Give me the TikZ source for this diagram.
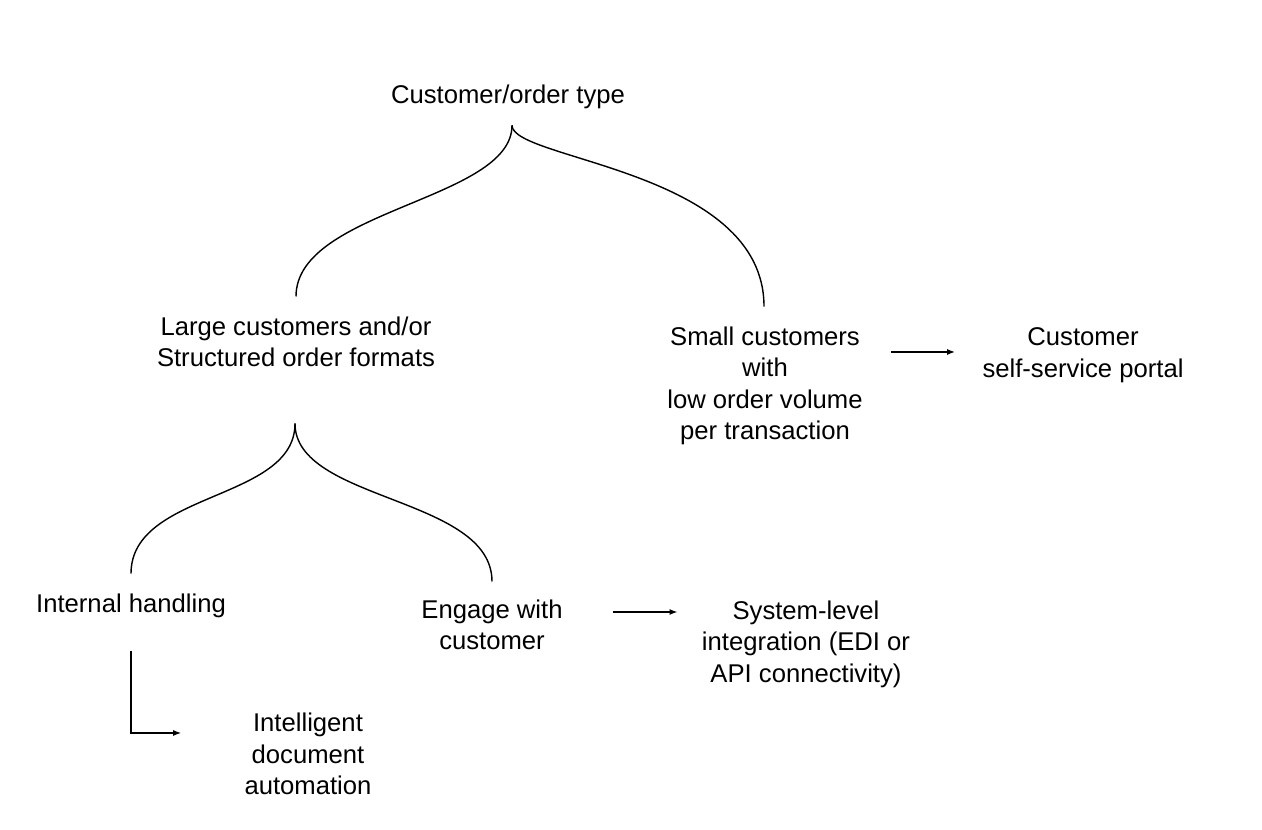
\documentclass[tikz,border=0pt]{standalone}
\usepackage{fontspec}
\setmainfont{Liberation Sans}
\usetikzlibrary{arrows.meta,calc}

\begin{document}
\begin{tikzpicture}[x=0.02cm,y=-0.02cm,
  lbl/.style={align=center,inner sep=0pt,font=\fontsize{14.6}{17.9}\selectfont},
  fork/.style={line width=0.8pt},
  flow/.style={-{Latex[length=1.6mm,width=1.2mm]},line width=0.8pt}]
\useasboundingbox (0,0) rectangle (1262,830);
% labels
\node[lbl] (top) at (508,97) {Customer/order type};
\node[lbl] (large) at (296,342) {Large customers and/or\\Structured order formats};
\node[lbl] (small) at (765,386) {Small customers\\with\\low order volume\\per transaction};
\node[lbl] (portal) at (1083,355) {Customer\\self-service portal};
\node[lbl] (internal) at (131,606) {Internal handling};
\node[lbl] (engage) at (492,625) {Engage with\\customer};
\node[lbl] (system) at (806,644) {System-level\\integration (EDI or\\API connectivity)};
\node[lbl] (intelligent) at (308,754) {Intelligent\\document\\automation};
% forks
\coordinate (split1) at ($(top.south)+(4,16)$);
\coordinate (split2) at ($(large.south)+(-1,56)$);
\draw[fork] ($(large.north)+(0,-20)$) .. controls +(0,-87) and +(0,75) .. (split1);
\draw[fork] (split1) .. controls +(0,35) and +(0,-137) .. ($(small.north)+(-1,-20)$);
\draw[fork] ($(internal.north)+(0,-20)$) .. controls +(0,-83) and +(0,78) .. (split2);
\draw[fork] (split2) .. controls +(0,78) and +(0,-85) .. ($(engage.north)+(0,-18)$);
% arrows
\draw[flow,shorten <=0.56cm,shorten >=0.54cm] ($(small.east |- portal.west)+(0,-3)$) -- ($(portal.west)+(0,-3)$);
\draw[flow] ($(engage.east)+(50,-13)$) -- ($(system.west)+(-24,-32)$);
\draw[flow] ($(internal.south)+(0,33)$) |- ($(intelligent.west)+(-63,-21)$);
\end{tikzpicture}
\end{document}
